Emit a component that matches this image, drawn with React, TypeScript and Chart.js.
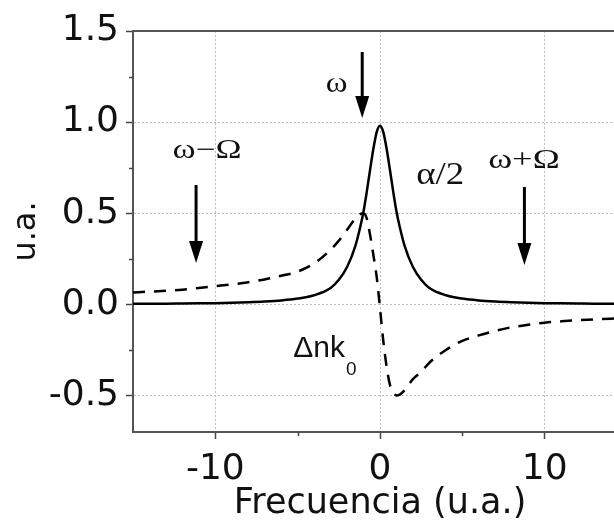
import React, { useEffect, useRef } from 'react';
import { Chart, registerables } from 'chart.js';

Chart.register(...registerables);

// ---- data ----
const freq = [-15, -14, -13, -12, -11, -10, -9, -8, -7, -6, -5, -4, -3, -2.5, -2, -1.5, -1.2, -1, -0.8, -0.6, -0.4, -0.2, 0, 0.2, 0.4, 0.6, 0.8, 1, 1.2, 1.5, 2, 2.5, 3, 4, 5, 6, 7, 8, 9, 10, 11, 12, 13, 14, 15];
const absorption = [0.003, 0.004, 0.004, 0.005, 0.006, 0.007, 0.009, 0.012, 0.016, 0.022, 0.032, 0.05, 0.09, 0.135, 0.205, 0.32, 0.425, 0.51, 0.62, 0.74, 0.855, 0.945, 0.98, 0.945, 0.855, 0.74, 0.62, 0.51, 0.425, 0.32, 0.205, 0.135, 0.09, 0.05, 0.032, 0.022, 0.016, 0.012, 0.009, 0.007, 0.006, 0.005, 0.004, 0.004, 0.003];
const dispersion = [0.066, 0.07, 0.075, 0.081, 0.09, 0.1, 0.11, 0.122, 0.137, 0.157, 0.18, 0.225, 0.3, 0.35, 0.41, 0.47, 0.495, 0.5, 0.47, 0.38, 0.27, 0.15, -0.02, -0.2, -0.34, -0.44, -0.48, -0.5, -0.495, -0.47, -0.41, -0.37, -0.32, -0.25, -0.2, -0.17, -0.145, -0.125, -0.112, -0.1, -0.093, -0.087, -0.082, -0.078, -0.075];

const xTickValues = [-10, 0, 10];
const yTickValues = [-0.5, 0, 0.5, 1, 1.5];
const xMinorTicks = [-5, 5];
const yMinorTicks = [-0.25, 0.25, 0.75, 1.25];
const xTitle = 'Frecuencia (u.a.)';
const yTitle = 'u.a.';

// annotations (data coordinates)
const notes = [
  { text: 'ω−Ω', x: -10.5, y: 0.803, size: 27, stretch: 1.3 },
  { text: 'ω', x: -2.63, y: 1.165, size: 30, stretch: 1.1 },
  { text: 'α/2', x: 3.66, y: 0.661, size: 32, stretch: 1.15 },
  { text: 'ω+Ω', x: 8.74, y: 0.748, size: 28, stretch: 1.3 },
];
const arrows = [
  { x: -11.17, from: 0.655, to: 0.227 },
  { x: -1.08, from: 1.385, to: 1.023 },
  { x: 8.77, from: 0.644, to: 0.216 },
];
const indexLabel = { main: 'Δnk', sub: '0', x: -5.27, y: -0.289 };

const AXIS = '#555';
const GRID = '#bdbdbd';
const TEXT = '#111';

const annotatePlugin = {
  id: 'annotate',
  afterDatasetsDraw(chart: any) {
    const { ctx, chartArea } = chart;
    const xs = chart.scales.x;
    const ys = chart.scales.y;
    ctx.save();
    // top frame line
    ctx.strokeStyle = AXIS;
    ctx.lineWidth = 2;
    ctx.beginPath();
    ctx.moveTo(chartArea.left - 1, chartArea.top);
    ctx.lineTo(chartArea.right, chartArea.top);
    ctx.stroke();
    // minor ticks
    ctx.lineWidth = 1.5;
    ctx.strokeStyle = '#444';
    yMinorTicks.forEach((v) => {
      const py = Math.round(ys.getPixelForValue(v)) + 0.5;
      ctx.beginPath();
      ctx.moveTo(chartArea.left - 4, py);
      ctx.lineTo(chartArea.left, py);
      ctx.stroke();
    });
    xMinorTicks.forEach((v) => {
      const px = Math.round(xs.getPixelForValue(v)) + 0.5;
      ctx.beginPath();
      ctx.moveTo(px, chartArea.bottom);
      ctx.lineTo(px, chartArea.bottom + 4);
      ctx.stroke();
    });
    // arrows
    ctx.fillStyle = '#000';
    ctx.strokeStyle = '#000';
    arrows.forEach((a) => {
      const px = xs.getPixelForValue(a.x);
      const y0 = ys.getPixelForValue(a.from);
      const y1 = ys.getPixelForValue(a.to);
      const head = 22;
      const hw = 7;
      ctx.lineWidth = 3;
      ctx.beginPath();
      ctx.moveTo(px, y0);
      ctx.lineTo(px, y1 - head + 2);
      ctx.stroke();
      ctx.beginPath();
      ctx.moveTo(px - hw, y1 - head);
      ctx.lineTo(px + hw, y1 - head);
      ctx.lineTo(px, y1);
      ctx.closePath();
      ctx.fill();
    });
    // serif labels
    ctx.fillStyle = TEXT;
    notes.forEach((n) => {
      ctx.save();
      ctx.translate(xs.getPixelForValue(n.x), ys.getPixelForValue(n.y));
      ctx.scale(n.stretch, 1);
      ctx.font = `${n.size}px "Liberation Serif"`;
      ctx.textAlign = 'center';
      ctx.textBaseline = 'alphabetic';
      ctx.fillText(n.text, 0, 0);
      ctx.restore();
    });
    // Δnk0 label
    const lx = xs.getPixelForValue(indexLabel.x);
    const ly = ys.getPixelForValue(indexLabel.y);
    ctx.font = '30px "Liberation Sans"';
    ctx.textAlign = 'left';
    ctx.textBaseline = 'alphabetic';
    ctx.fillText(indexLabel.main, lx, ly);
    const w = ctx.measureText(indexLabel.main).width;
    ctx.font = '19px "Liberation Sans"';
    ctx.fillText(indexLabel.sub, lx + w + 1, ly + 18);
    ctx.restore();
  },
};

export default function App() {
  const canvasRef = useRef<HTMLCanvasElement | null>(null);

  useEffect(() => {
    const canvas = canvasRef.current;
    if (!canvas) return;
    const tickFont = { family: 'DejaVu Sans', size: 36 };
    const chart = new Chart(canvas, {
      type: 'line',
      data: {
        datasets: [
          {
            label: 'α/2',
            data: freq.map((x, i) => ({ x, y: absorption[i] })),
            borderColor: '#000',
            borderWidth: 2.5,
            pointRadius: 0,
            fill: false,
            cubicInterpolationMode: 'monotone',
          },
          {
            label: 'Δnk0',
            data: freq.map((x, i) => ({ x, y: dispersion[i] })),
            borderColor: '#000',
            borderWidth: 2.5,
            borderDash: [12, 9],
            pointRadius: 0,
            fill: false,
            cubicInterpolationMode: 'monotone',
          },
        ],
      },
      options: {
        animation: false,
        responsive: false,
        layout: { padding: { top: 31, left: 0, right: 0, bottom: 0 } },
        plugins: { legend: { display: false }, tooltip: { enabled: false } },
        scales: {
          x: {
            type: 'linear',
            min: -15,
            max: 15,
            afterBuildTicks: (s: any) => {
              s.ticks = xTickValues.map((v) => ({ value: v }));
            },
            afterFit: (s: any) => {
              s.height = 92;
            },
            ticks: {
              font: tickFont,
              color: TEXT,
              padding: 9,
              maxRotation: 0,
              callback: (v: any) => String(v),
            },
            grid: {
              color: GRID,
              lineWidth: 1,
              tickLength: 7,
              tickColor: '#444',
              tickWidth: 1.5,
            },
            border: { color: AXIS, width: 2, dash: [2, 2] },
            title: {
              display: true,
              text: xTitle,
              color: TEXT,
              font: { family: 'DejaVu Sans', size: 35, lineHeight: 1 },
              padding: { top: 0, bottom: 3 },
            },
          },
          y: {
            type: 'linear',
            min: -0.7,
            max: 1.5,
            afterBuildTicks: (s: any) => {
              s.ticks = yTickValues.map((v) => ({ value: v }));
            },
            afterFit: (s: any) => {
              s.width = 133;
            },
            ticks: {
              font: tickFont,
              color: TEXT,
              padding: 7,
              callback: (v: any) => Number(v).toFixed(1),
            },
            grid: {
              color: GRID,
              lineWidth: 1,
              tickLength: 7,
              tickColor: '#444',
              tickWidth: 1.5,
            },
            border: { color: AXIS, width: 2, dash: [2, 2] },
            title: {
              display: true,
              text: yTitle,
              color: TEXT,
              font: { family: 'DejaVu Sans', size: 32, lineHeight: 1 },
              padding: { top: 11, bottom: 0 },
            },
          },
        },
      },
      plugins: [annotatePlugin],
    } as any);
    return () => chart.destroy();
  }, []);

  return (
    <div
      style={{
        position: 'fixed',
        left: 0,
        top: 0,
        width: 614,
        height: 524,
        overflow: 'hidden',
        background: '#fff',
      }}
    >
      <canvas ref={canvasRef} width={627} height={524} style={{ display: 'block' }} />
    </div>
  );
}
